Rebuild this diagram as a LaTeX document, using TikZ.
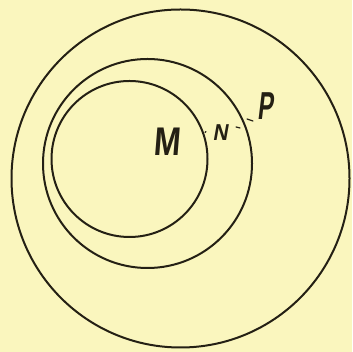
\documentclass[tikz,border=0pt]{standalone}
\usepackage{fontspec}
\setsansfont{Liberation Sans}
\definecolor{paper}{RGB}{250,246,190}
\definecolor{ink}{RGB}{36,32,20}
\begin{document}
\begin{tikzpicture}[x=1pt,y=1pt,
  ring/.style={draw=ink, line width=2pt, circle, inner sep=0pt},
  letter/.style={text=ink, inner sep=0pt},
  tick/.style={draw=ink, line width=1.2pt, line cap=round}]
\fill[paper] (0,0) rectangle (352,352);
\useasboundingbox (0,0) rectangle (352,352);
\node[ring, minimum size=338pt] (outer) at (180.5,173.5) {};
\node[ring, minimum size=209pt] (middle) at (147.5,188.5) {};
\node[ring, minimum size=156pt] (inner) at (129.5,193) {};
\node[letter, font=\sffamily\bfseries\fontsize{40}{40}\selectfont, xscale=0.8, xslant=0.1] (M) at (168,210) {M};
\node[letter, font=\sffamily\bfseries\fontsize{23}{23}\selectfont, xscale=0.9, xslant=0.2] (N) at (221.5,219.5) {N};
\node[letter, font=\sffamily\bfseries\fontsize{39}{39}\selectfont, xscale=0.6, xslant=0.2] (P) at (267,246) {P};
\coordinate (d1a) at (205,219.5); \coordinate (d1b) at (206,220.5);
\coordinate (d2a) at (236,225); \coordinate (d2b) at (240,224);
\coordinate (d3a) at (247,233); \coordinate (d3b) at (253,231);
\draw[tick] (d1a) -- (d1b);
\draw[tick] (d2a) -- (d2b);
\draw[tick] (d3a) -- (d3b);
\end{tikzpicture}
\end{document}
